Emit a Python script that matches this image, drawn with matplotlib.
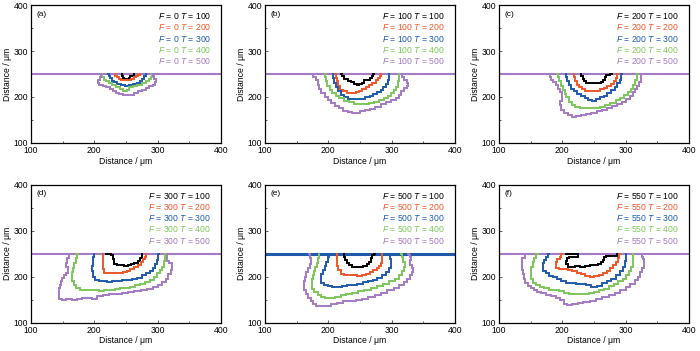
import matplotlib
matplotlib.use("Agg")
import matplotlib.pyplot as plt
from matplotlib.ticker import MultipleLocator

plt.rcParams['font.family'] = ['Liberation Sans', 'DejaVu Sans']
plt.rcParams['mathtext.fontset'] = 'custom'
plt.rcParams['mathtext.it'] = 'Liberation Sans:italic'
plt.rcParams['mathtext.rm'] = 'Liberation Sans'

panel_labels = ['(a)', '(b)', '(c)', '(d)', '(e)', '(f)']
F_values = [0, 100, 200, 300, 500, 550]
T_values = [100, 200, 300, 400, 500]
colors = ['#000000', '#f0562a', '#1f5aad', '#7cc65a', '#a37ac4']
interface_y = 250

# contour coordinates per panel, one list per T
a_x = [
    [243, 244, 246, 249, 253, 256, 258, 261, 263],
    [232, 233, 237, 240, 244, 250, 256, 260, 264, 268, 271, 272],
    [222, 223, 226, 229, 233, 239, 245, 251, 258, 264, 270, 274, 278, 280, 282],
    [212, 213, 216, 220, 225, 231, 237, 243, 249, 253, 258, 264, 271, 278, 284, 288, 291, 292],
    [210, 210, 207, 206, 210, 216, 222, 227, 231, 236, 242, 248, 254, 260, 266, 272, 278, 284, 290, 295, 298, 296, 293, 292],
]
a_y = [
    [250, 245, 241, 239, 239, 241, 245, 246, 250],
    [250, 246, 244, 240, 238, 237, 238, 239, 243, 245, 247, 250],
    [250, 245, 241, 235, 232, 229, 226, 225, 227, 229, 231, 235, 240, 245, 250],
    [250, 243, 238, 234, 231, 226, 222, 217, 214, 216, 221, 224, 227, 230, 234, 239, 244, 250],
    [250, 243, 238, 231, 226, 224, 221, 218, 214, 209, 206, 204, 205, 205, 208, 212, 216, 220, 224, 227, 233, 240, 245, 250],
]

b_x = [
    [220, 222, 228, 233, 238, 243, 246, 250, 255, 259, 264, 267, 270, 272],
    [211, 212, 214, 216, 220, 226, 233, 240, 246, 251, 256, 262, 267, 272, 277, 280, 283, 283],
    [207, 208, 210, 213, 217, 222, 228, 235, 242, 249, 255, 262, 268, 274, 280, 285, 289, 292, 295, 296],
    [194, 195, 197, 200, 204, 209, 214, 220, 228, 236, 244, 252, 260, 268, 276, 284, 291, 297, 302, 306, 309, 311, 311],
    [175, 178, 183, 183, 186, 191, 197, 202, 207, 213, 220, 227, 234, 240, 247, 254, 262, 270, 278, 287, 296, 303, 310, 314, 317, 322, 327, 326, 322, 317, 315],
]
b_y = [
    [250, 245, 240, 235, 232, 229, 226, 228, 231, 236, 238, 242, 246, 250],
    [250, 242, 234, 224, 215, 212, 209, 209, 211, 214, 218, 222, 226, 231, 237, 241, 245, 250],
    [250, 241, 230, 222, 212, 205, 200, 196, 195, 196, 195, 199, 202, 206, 211, 215, 222, 229, 238, 250],
    [250, 243, 234, 225, 216, 209, 203, 197, 192, 188, 185, 184, 185, 187, 190, 194, 198, 203, 209, 215, 222, 235, 250],
    [250, 244, 237, 226, 218, 209, 200, 193, 186, 180, 175, 170, 167, 165, 165, 169, 172, 174, 179, 184, 189, 193, 198, 205, 214, 220, 224, 231, 238, 244, 250],
]

c_x = [
    [229, 231, 233, 236, 240, 246, 252, 258, 263, 266, 268, 270, 274, 278],
    [218, 219, 221, 224, 228, 233, 238, 244, 250, 256, 262, 268, 274, 279, 283, 286, 288],
    [205, 206, 209, 212, 216, 221, 226, 232, 238, 244, 250, 256, 262, 268, 274, 280, 285, 289, 292, 294],
    [192, 193, 196, 199, 202, 205, 208, 212, 217, 224, 232, 240, 248, 256, 264, 272, 280, 288, 295, 301, 306, 310, 313, 316, 320],
    [179, 181, 184, 188, 192, 195, 198, 200, 198, 195, 200, 206, 211, 218, 226, 234, 242, 250, 258, 266, 274, 282, 290, 298, 304, 309, 313, 316, 319, 323, 325, 323],
]
c_y = [
    [250, 245, 239, 234, 231, 230, 230, 230, 233, 238, 243, 247, 248, 250],
    [250, 244, 235, 227, 221, 217, 214, 212, 213, 214, 217, 220, 225, 229, 235, 241, 250],
    [250, 243, 234, 226, 218, 212, 206, 202, 198, 194, 192, 195, 199, 203, 209, 215, 222, 230, 238, 250],
    [250, 243, 234, 225, 216, 207, 199, 190, 182, 178, 176, 176, 177, 176, 178, 182, 187, 193, 198, 204, 210, 218, 226, 238, 250],
    [250, 243, 237, 232, 226, 218, 210, 200, 192, 182, 172, 166, 161, 157, 158, 161, 163, 165, 169, 172, 176, 181, 185, 190, 196, 203, 210, 218, 225, 232, 240, 250],
]

d_x = [
    [219, 225, 229, 230, 233, 238, 244, 250, 255, 260, 266, 271, 274, 275, 276],
    [214, 213, 213, 214, 218, 224, 230, 236, 242, 248, 254, 260, 266, 271, 276, 279, 281, 281],
    [200, 199, 198, 197, 197, 199, 204, 210, 217, 224, 232, 240, 248, 256, 264, 271, 278, 285, 291, 295, 298, 300, 302],
    [174, 172, 169, 167, 165, 164, 166, 169, 174, 180, 188, 196, 204, 212, 220, 228, 236, 244, 252, 260, 268, 276, 284, 291, 297, 302, 306, 309, 311, 312],
    [161, 158, 155, 157, 160, 157, 153, 150, 148, 146, 144, 143, 146, 152, 160, 168, 176, 184, 192, 200, 208, 218, 228, 238, 248, 258, 268, 278, 288, 297, 304, 310, 315, 319, 322, 323, 321, 316, 315],
]
d_y = [
    [250, 250, 247, 238, 228, 225, 225, 224, 226, 228, 230, 235, 240, 245, 250],
    [250, 240, 228, 216, 209, 208, 207, 208, 209, 210, 212, 216, 221, 226, 232, 238, 244, 250],
    [250, 243, 233, 224, 212, 200, 193, 190, 190, 189, 190, 191, 192, 193, 195, 198, 203, 208, 213, 220, 228, 236, 250],
    [250, 240, 230, 220, 210, 200, 190, 182, 176, 171, 170, 170, 170, 169, 170, 172, 174, 176, 176, 178, 182, 185, 188, 193, 200, 208, 215, 222, 235, 250],
    [250, 240, 230, 222, 214, 208, 203, 197, 190, 183, 175, 160, 151, 150, 151, 150, 152, 153, 154, 152, 158, 160, 162, 163, 165, 166, 168, 171, 174, 178, 183, 188, 196, 205, 214, 222, 229, 235, 250],
]

e_x = [
    [225, 226, 228, 231, 235, 240, 246, 252, 258, 263, 266, 268, 270, 274],
    [214, 213, 213, 214, 217, 222, 228, 235, 242, 249, 256, 262, 268, 274, 279, 282, 284, 284, 284],
    [201, 200, 198, 196, 193, 190, 188, 190, 196, 203, 210, 218, 226, 234, 242, 250, 258, 266, 274, 281, 288, 294, 298, 300, 299, 297],
    [186, 184, 183, 181, 178, 176, 174, 173, 176, 180, 186, 192, 199, 207, 215, 224, 233, 242, 252, 262, 272, 282, 292, 301, 309, 315, 319, 321, 320, 317, 315],
    [170, 172, 173, 170, 167, 164, 162, 160, 162, 166, 170, 174, 178, 184, 192, 200, 208, 218, 228, 238, 248, 258, 268, 278, 288, 298, 308, 316, 322, 327, 331, 333, 334, 331, 328, 330, 331, 328, 326],
]
e_y = [
    [250, 244, 236, 230, 225, 222, 221, 221, 223, 227, 233, 241, 247, 250],
    [250, 242, 233, 224, 214, 206, 204, 203, 203, 202, 203, 206, 210, 214, 219, 224, 230, 238, 250],
    [250, 242, 233, 224, 214, 205, 195, 187, 183, 180, 178, 178, 180, 182, 183, 185, 188, 190, 193, 197, 203, 210, 218, 228, 238, 250],
    [250, 240, 230, 222, 212, 203, 194, 184, 174, 167, 161, 156, 154, 153, 156, 160, 163, 165, 168, 171, 175, 179, 184, 190, 196, 203, 212, 222, 232, 242, 250],
    [250, 240, 228, 220, 210, 200, 190, 180, 170, 162, 154, 146, 140, 137, 137, 137, 140, 143, 146, 148, 149, 152, 156, 160, 165, 170, 176, 182, 189, 196, 203, 210, 218, 225, 232, 237, 243, 247, 250],
]

f_x = [
    [206, 224, 224, 212, 208, 206, 207, 210, 216, 224, 232, 240, 248, 254, 259, 263, 265, 266, 272, 280, 286, 287],
    [200, 197, 194, 190, 189, 192, 198, 205, 212, 219, 226, 233, 240, 247, 254, 261, 267, 273, 278, 283, 287, 289, 291],
    [179, 175, 172, 170, 169, 171, 176, 182, 188, 195, 202, 210, 218, 226, 234, 242, 250, 258, 266, 274, 281, 288, 294, 298, 300, 301],
    [161, 157, 154, 152, 150, 150, 152, 156, 161, 168, 175, 182, 190, 198, 206, 214, 222, 230, 238, 246, 254, 262, 270, 278, 285, 292, 298, 303, 307, 310, 312, 312],
    [143, 139, 135, 136, 137, 139, 140, 143, 148, 152, 157, 163, 170, 178, 186, 194, 200, 204, 212, 220, 228, 238, 248, 258, 268, 278, 287, 296, 304, 311, 317, 321, 324, 327, 330, 328, 326, 325],
]
f_y = [
    [250, 250, 244, 243, 240, 234, 227, 222, 222, 223, 222, 224, 226, 226, 228, 231, 236, 244, 245, 245, 246, 250],
    [250, 244, 238, 232, 226, 220, 217, 216, 214, 212, 208, 205, 202, 200, 201, 204, 208, 213, 219, 226, 233, 241, 250],
    [250, 243, 236, 229, 221, 213, 207, 202, 199, 196, 191, 187, 186, 185, 184, 181, 178, 180, 186, 191, 196, 204, 212, 222, 234, 250],
    [250, 241, 232, 222, 212, 202, 194, 187, 182, 178, 175, 172, 170, 168, 165, 163, 162, 162, 163, 165, 167, 170, 174, 179, 184, 190, 196, 204, 213, 222, 235, 250],
    [250, 241, 233, 225, 215, 205, 195, 187, 180, 175, 170, 166, 164, 161, 158, 154, 149, 141, 139, 141, 143, 145, 148, 151, 155, 160, 164, 170, 177, 184, 192, 200, 210, 220, 230, 238, 244, 250],
]

all_x = [a_x, b_x, c_x, d_x, e_x, f_x]
all_y = [a_y, b_y, c_y, d_y, e_y, f_y]
interface_color_idx = [4, 4, 4, 4, 2, 4]

fig = plt.figure(figsize=(7.0, 3.51), dpi=100)
lefts = [0.0443, 0.3786, 0.7129]
bottoms = [0.593, 0.081]
w, h = 0.2714, 0.392

for i in range(6):
    r, c = divmod(i, 3)
    ax = fig.add_axes([lefts[c], bottoms[r], w, h])
    ci = interface_color_idx[i]
    ax.plot([100, 400], [interface_y, interface_y], color=colors[ci],
            lw=2.2 if ci == 2 else 1.5, zorder=2, solid_capstyle='butt')
    for k in range(5):
        ax.plot(all_x[i][k], all_y[i][k], color=colors[k], lw=1.4, zorder=3,
                drawstyle='steps-mid', solid_joinstyle='miter')
    ax.set_xlim(100, 400)
    ax.set_ylim(100, 400)
    ax.xaxis.set_major_locator(MultipleLocator(100))
    ax.yaxis.set_major_locator(MultipleLocator(100))
    ax.xaxis.set_minor_locator(MultipleLocator(50))
    ax.yaxis.set_minor_locator(MultipleLocator(50))
    ax.tick_params(which='both', direction='in', labelsize=6.2,
                   width=0.6, color='#444444')
    ax.tick_params(axis='x', pad=2.5)
    ax.tick_params(axis='y', pad=2.0)
    ax.tick_params(which='major', length=2.5)
    ax.tick_params(which='minor', length=1.5)
    for s in ax.spines.values():
        s.set_linewidth(0.9)
    ax.set_xlabel('Distance / μm', fontsize=6.2, labelpad=1)
    ax.set_ylabel('Distance / μm', fontsize=6.2, labelpad=1)
    ax.text(0.03, 0.935, panel_labels[i], transform=ax.transAxes,
            fontsize=6, va='center', ha='left')
    for k, T in enumerate(T_values):
        ax.text(0.95, 0.92 - k * 0.081,
                r'$F$ = %d $T$ = %d' % (F_values[i], T),
                transform=ax.transAxes, fontsize=6.2, ha='right',
                va='center', color=colors[k])

fig.savefig('out.png', dpi=100)
